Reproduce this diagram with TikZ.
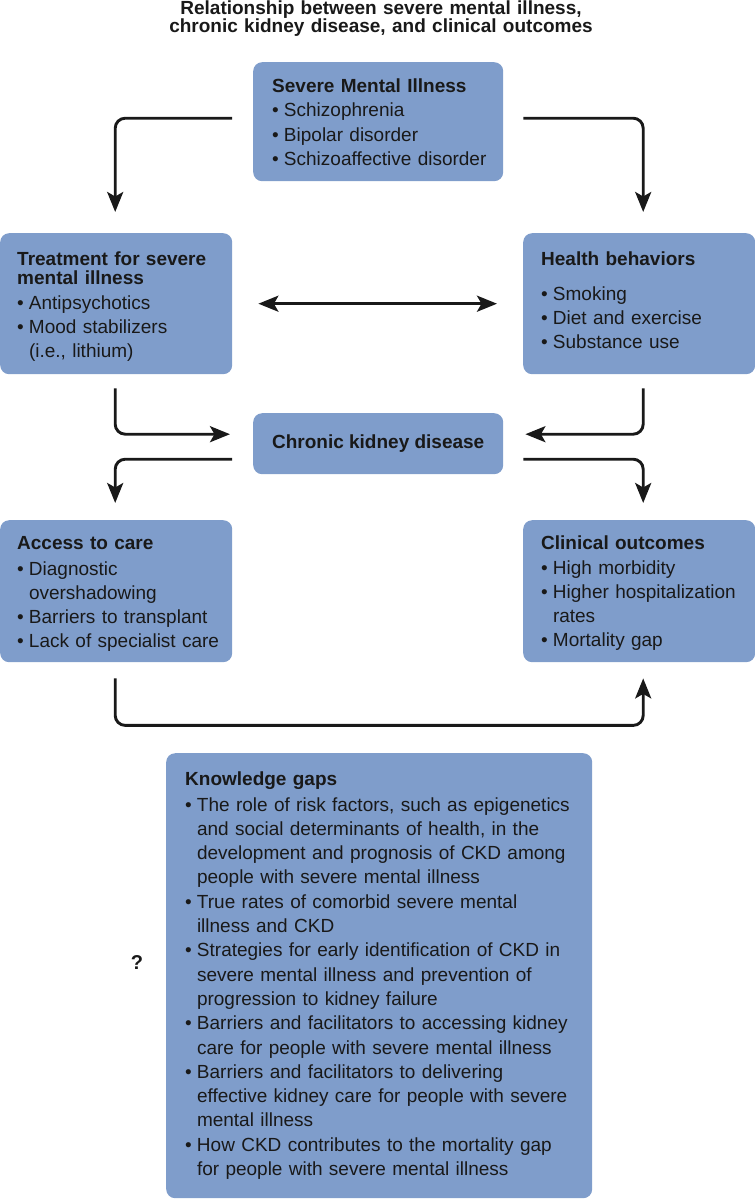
\documentclass[tikz,border=0pt]{standalone}
\usepackage{fontspec}
\setmainfont{Liberation Sans}
\usetikzlibrary{arrows.meta,calc}
\definecolor{boxblue}{RGB}{127,157,203}
\definecolor{ink}{RGB}{25,25,25}
\newcommand{\bul}{\makebox[11.8pt][l]{\textbullet}}
\newcommand{\ind}{\hspace*{11.8pt}}
\begin{document}
\begin{tikzpicture}[x=1pt,y=-1pt,
  >={Stealth[length=20pt,width=16pt,inset=4.5pt]},
  box/.style={fill=boxblue, rounded corners=9pt, anchor=north west, inner sep=0pt},
  txt/.style={anchor=base west, inner sep=0pt, text width=#1, align=left, text=ink,
    font=\fontsize{19}{24.3}\selectfont},
  conn/.style={draw=ink, line width=2.9pt, rounded corners=10pt, ->},
  dconn/.style={draw=ink, line width=2.9pt, <->},
]
\useasboundingbox (0,0) rectangle (755,1200);

\node[anchor=base, text width=640, align=center, inner sep=0pt, text=ink,
  font=\bfseries\fontsize{19}{18}\selectfont] (title) at (381,14.5)
  {Relationship between severe mental illness,\\chronic kidney disease, and clinical outcomes};

% boxes
\node[box, minimum width=250, minimum height=119] (smi) at (253,62) {};
\node[box, minimum width=232, minimum height=141] (treat) at (0,233) {};
\node[box, minimum width=232, minimum height=141] (health) at (523,233) {};
\node[box, minimum width=250, minimum height=61, text=ink,
  font=\bfseries\fontsize{19}{24}\selectfont] (ckd) at (253,413) {Chronic kidney disease};
\node[box, minimum width=232, minimum height=142] (access) at (0,520) {};
\node[box, minimum width=232, minimum height=142] (clin) at (523,520) {};
\node[box, minimum width=426, minimum height=445] (gaps) at (166,753) {};

% texts
\node[txt=260] (smi-t) at (272,92) {\textbf{Severe Mental Illness}\\[0.5pt]
  \bul Schizophrenia\\ \bul Bipolar disorder\\ \bul Schizoaffective disorder};
\node[txt=260] (treat-t) at (17,265) {\textbf{Treatment for severe}\\[-5.3pt]\textbf{mental illness}\\[0.7pt]
  \bul Antipsychotics\\ \bul Mood stabilizers\\ \ind(i.e., lithium)};
\node[txt=260] (health-t) at (541,265) {\textbf{Health behaviors}\\[10.7pt]
  \bul Smoking\\ \bul Diet and exercise\\ \bul Substance use};
\node[txt=260] (access-t) at (17,549) {\textbf{Access to care}\\[1.7pt]
  \bul Diagnostic\\ \ind overshadowing\\ \bul Barriers to transplant\\ \bul Lack of specialist care};
\node[txt=260] (clin-t) at (541,549) {\textbf{Clinical outcomes}\\[0.7pt]
  \bul High morbidity\\ \bul Higher hospitalization\\ \ind rates\\ \bul Mortality gap};
\node[txt=440] (gaps-t) at (185,785) {\textbf{Knowledge gaps}\\[1.7pt]
  \bul The role of risk factors, such as epigenetics\\
  \ind and social determinants of health, in the\\
  \ind development and prognosis of CKD among\\
  \ind people with severe mental illness\\
  \bul True rates of comorbid severe mental\\
  \ind illness and CKD\\
  \bul Strategies for early identification of CKD in\\
  \ind severe mental illness and prevention of\\
  \ind progression to kidney failure\\
  \bul Barriers and facilitators to accessing kidney\\
  \ind care for people with severe mental illness\\
  \bul Barriers and facilitators to delivering\\
  \ind effective kidney care for people with severe\\
  \ind mental illness\\
  \bul How CKD contributes to the mortality gap\\
  \ind for people with severe mental illness};
\node[inner sep=0pt, text=ink, font=\bfseries\fontsize{20}{24}\selectfont] (q) at (137,963) {?};

% connectors
\draw[conn] ($(smi.west)+(-21,-3.5)$) -| ($(treat.north)+(-1,-21)$);
\draw[conn] ($(smi.east)+(20,-3.5)$) -| ($(health.north)+(4,-21)$);
\draw[dconn] ($(treat.east)+(26,0)$) -- ($(health.west)+(-26,0)$);
\draw[conn] ($(treat.south)+(-1,14)$) |- ($(ckd.west)+(-23,-9.5)$);
\draw[conn] ($(health.south)+(4,14)$) |- ($(ckd.east)+(22,-9.5)$);
\draw[conn] ($(ckd.west)+(-21,15.5)$) -| ($(access.north)+(-1,-17)$);
\draw[conn] ($(ckd.east)+(20,15.5)$) -| ($(clin.north)+(4,-17)$);
\draw[conn] ($(access.south)+(-1,16)$) -- ++(0,47) -| ($(clin.south)+(4,16)$);
\end{tikzpicture}
\end{document}
